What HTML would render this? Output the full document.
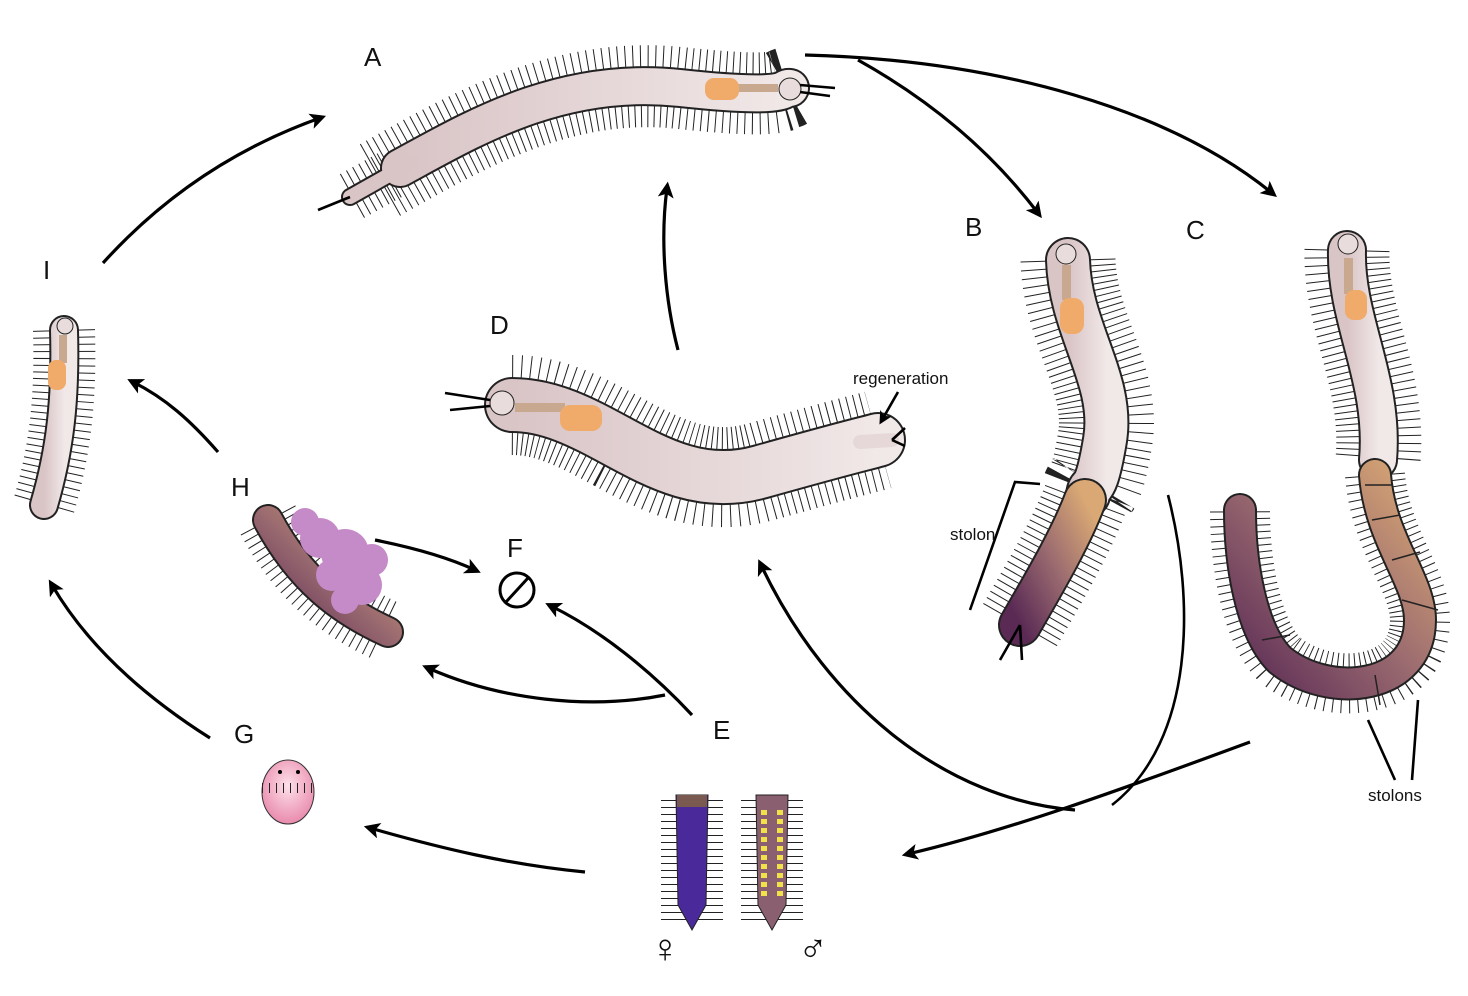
<!DOCTYPE html>
<html><head><meta charset="utf-8">
<style>
html,body{margin:0;padding:0;background:#fff;}
svg{display:block;}
text{font-family:"Liberation Sans",sans-serif;fill:#111;}
.lbl{font-size:26px;}
.small{font-size:17px;}
.arrow{fill:none;stroke:#000;stroke-width:3.2;marker-end:url(#ah);}
.line{fill:none;stroke:#000;stroke-width:2.6;}
.bristle{fill:none;stroke:#222;stroke-dasharray:1 6;}
.body{fill:none;stroke-linecap:round;}
.outline{fill:none;stroke:#222;stroke-linecap:round;}
</style></head>
<body>
<svg width="1468" height="996" viewBox="0 0 1468 996">
<defs>
<marker id="ah" markerWidth="5" markerHeight="5" refX="3" refY="2.5" orient="auto" markerUnits="strokeWidth">
<path d="M0,0 L5,2.5 L0,5 L1.2,2.5 Z" fill="#000"/></marker>
<linearGradient id="pinkbody" x1="0" y1="0" x2="1" y2="0">
<stop offset="0" stop-color="#d9c4c6"/><stop offset="1" stop-color="#f1e8e8"/></linearGradient>
<linearGradient id="stolonG" x1="0" y1="1" x2="1" y2="0">
<stop offset="0" stop-color="#5a2a55"/><stop offset="0.5" stop-color="#9a6a70"/><stop offset="1" stop-color="#d9a874"/></linearGradient>
<radialGradient id="larva" cx="0.5" cy="0.4" r="0.6">
<stop offset="0" stop-color="#fde0ea"/><stop offset="1" stop-color="#e98aac"/></radialGradient>
</defs>

<!-- Worm A -->
<g>
<path class="bristle" stroke-width="82" d="M380,180 C460,135 560,75 680,88 S 780,86 790,88"/>
<path class="bristle" stroke-width="50" d="M352,196 L390,175"/>
<path class="outline" stroke-width="40" d="M400,168 C470,130 560,75 680,88 S 780,86 790,88"/>
<path class="outline" stroke-width="18" d="M350,197 L410,163"/>
<path class="body" stroke="url(#pinkbody)" stroke-width="36" d="M400,168 C470,130 560,75 680,88 S 780,86 790,88"/>
<path class="body" stroke="#d9c4c6" stroke-width="14" d="M350,197 L412,162"/>
<rect x="738" y="84" width="40" height="8" fill="#c9a890"/>
<rect x="705" y="78" width="34" height="22" rx="9" fill="#f0aa6a"/>
<circle cx="790" cy="89" r="11" fill="#e8dcdc" stroke="#222"/>
<path d="M800,85 L835,88 M800,92 L830,96 M350,197 L318,210" class="line" stroke-width="1.2"/>
</g>

<!-- Worm D -->
<g>
<path class="bristle" stroke-width="100" d="M512,405 C600,405 660,500 760,472 S 860,445 878,440"/>
<path class="outline" stroke-width="56" d="M512,405 C600,405 660,500 760,472 S 860,445 878,440"/>
<path class="body" stroke="url(#pinkbody)" stroke-width="52" d="M512,405 C600,405 660,500 760,472 S 860,445 878,440"/>
<path d="M860,442 L892,440" stroke="#e6d8d8" stroke-width="14" stroke-linecap="round"/>
<rect x="515" y="403" width="50" height="9" fill="#c9a890"/>
<rect x="560" y="405" width="42" height="26" rx="10" fill="#f0aa6a"/>
<circle cx="502" cy="403" r="12" fill="#e8dcdc" stroke="#222"/>
<path d="M490,400 L445,393 M490,406 L450,410 M892,440 L905,428 M892,440 L905,446" class="line" stroke-width="1.2"/>
</g>

<!-- Worm B -->
<g>
<path class="bristle" stroke-width="95" d="M1068,260 C1070,330 1115,380 1105,440 S 1090,480 1088,495"/>
<path class="outline" stroke-width="46" d="M1068,260 C1070,330 1115,380 1105,440 S 1090,480 1088,495"/>
<path class="body" stroke="url(#pinkbody)" stroke-width="42" d="M1068,260 C1070,330 1115,380 1105,440 S 1090,480 1088,495"/>
<path class="bristle" stroke-width="85" d="M1085,500 C1070,540 1040,590 1020,625"/>
<path class="outline" stroke-width="44" d="M1085,500 C1070,540 1040,590 1020,625"/>
<path class="body" stroke="url(#stolonG)" stroke-width="40" d="M1085,500 C1070,540 1040,590 1020,625"/>
<rect x="1062" y="265" width="9" height="35" fill="#c9a890"/>
<rect x="1060" y="298" width="24" height="36" rx="10" fill="#f0aa6a"/>
<circle cx="1066" cy="254" r="10" fill="#e8dcdc" stroke="#222"/>
<path d="M1020,625 L1000,660 M1020,625 L1022,660 M1040,484 L1015,482 L970,610" class="line" stroke-width="1.2"/>
</g>

<!-- Worm C -->
<g>
<path class="bristle" stroke-width="85" d="M1347,250 C1345,320 1385,380 1378,460"/>
<path class="outline" stroke-width="40" d="M1347,250 C1345,320 1385,380 1378,460"/>
<path class="body" stroke="url(#pinkbody)" stroke-width="36" d="M1347,250 C1345,320 1385,380 1378,460"/>
<rect x="1344" y="258" width="9" height="36" fill="#c9a890"/>
<rect x="1345" y="290" width="22" height="30" rx="9" fill="#f0aa6a"/>
<circle cx="1348" cy="244" r="10" fill="#e8dcdc" stroke="#222"/>
<path class="bristle" stroke-width="60" d="M1375,475 C1380,540 1420,580 1420,620 C1420,690 1330,700 1280,660 C1250,630 1240,560 1240,510"/>
<path class="outline" stroke-width="34" d="M1375,475 C1380,540 1420,580 1420,620 C1420,690 1330,700 1280,660 C1250,630 1240,560 1240,510"/>
<path class="body" stroke="url(#stolonG)" stroke-width="30" d="M1375,475 C1380,540 1420,580 1420,620 C1420,690 1330,700 1280,660 C1250,630 1240,560 1240,510"/>
<path d="M1365,485 L1392,485 M1372,520 L1400,515 M1392,560 L1420,552 M1402,600 L1438,610 M1375,675 L1380,705 M1262,640 L1290,635" stroke="#222" stroke-width="1.5"/>
<path d="M1368,720 L1395,780 M1418,700 L1412,780" class="line" stroke-width="1.2"/>
</g>

<!-- Worm I -->
<g>
<path class="bristle" stroke-width="62" d="M64,330 C66,400 60,450 44,505"/>
<path class="outline" stroke-width="30" d="M64,330 C66,400 60,450 44,505"/>
<path class="body" stroke="url(#pinkbody)" stroke-width="26" d="M64,330 C66,400 60,450 44,505"/>
<rect x="59" y="335" width="8" height="28" fill="#c9a890"/>
<rect x="48" y="360" width="18" height="30" rx="8" fill="#f0aa6a"/>
<circle cx="65" cy="326" r="8" fill="#e8dcdc" stroke="#222"/>
</g>

<!-- Worm H -->
<g>
<path class="bristle" stroke-width="62" d="M268,520 C300,580 340,610 388,632"/>
<path class="outline" stroke-width="32" d="M268,520 C300,580 340,610 388,632"/>
<path class="body" stroke="url(#stolonG)" stroke-width="28" d="M268,520 C300,580 340,610 388,632"/>
<g fill="#c58ac8">
<circle cx="320" cy="538" r="20"/><circle cx="345" cy="553" r="24"/><circle cx="362" cy="585" r="20"/><circle cx="305" cy="522" r="14"/><circle cx="372" cy="560" r="16"/><circle cx="345" cy="600" r="14"/><circle cx="332" cy="575" r="16"/></g>
</g>

<!-- Larva G -->
<g>
<ellipse cx="288" cy="792" rx="26" ry="32" fill="url(#larva)" stroke="#333" stroke-width="1"/>
<path class="bristle" stroke-width="10" d="M262,788 L314,788"/>
<circle cx="280" cy="772" r="2" fill="#000"/><circle cx="298" cy="772" r="2" fill="#000"/>
</g>

<!-- Worms E -->
<g>
<path class="bristle" stroke-width="62" d="M692,800 L692,925"/>
<path d="M676,795 L708,795 L706,905 L692,930 L678,905 Z" fill="#4a2a9a" stroke="#222"/>
<rect x="677" y="795" width="30" height="12" fill="#7a5a50"/>
<text x="650" y="962" style="font-size:40px">♀</text>
</g>
<g>
<path class="bristle" stroke-width="62" d="M772,800 L772,925"/>
<path d="M756,795 L788,795 L786,905 L772,930 L758,905 Z" fill="#8a6070" stroke="#222"/>
<path d="M764,810 L764,900 M780,810 L780,900" stroke="#f2e24a" stroke-width="6" stroke-dasharray="5 4"/>
<text x="798" y="962" style="font-size:40px">♂</text>
</g>

<!-- F -->
<g>
<circle cx="517" cy="590" r="17" fill="none" stroke="#000" stroke-width="3"/>
<line x1="506" y1="602" x2="528" y2="578" stroke="#000" stroke-width="3"/>
</g>

<!-- Arrows -->
<g>
<path class="arrow" d="M103,263 C160,200 230,150 320,118"/>
<path class="arrow" d="M858,60 C930,100 990,150 1038,213"/>
<path class="arrow" d="M805,55 C1000,60 1170,110 1272,193"/>
<path class="arrow" d="M678,350 C665,300 660,240 667,188"/>
<path class="arrow" d="M218,452 C190,420 165,398 133,382"/>
<path class="arrow" d="M375,540 C410,547 445,556 475,570"/>
<path class="arrow" d="M692,715 C650,670 600,630 551,606"/>
<path class="arrow" d="M665,695 C590,710 500,700 428,668"/>
<path class="arrow" d="M210,738 C150,700 90,650 52,585"/>
<path class="arrow" d="M585,872 C510,865 440,848 370,828"/>
<path class="line" d="M1168,495 C1195,600 1195,740 1112,805"/>
<path class="arrow" d="M1250,742 C1120,790 1010,830 908,854"/>
<path class="arrow" d="M1075,810 C950,800 830,710 761,565"/>
</g>

<!-- Labels -->
<text class="lbl" x="364" y="66">A</text>
<text class="lbl" x="965" y="236">B</text>
<text class="lbl" x="1186" y="239">C</text>
<text class="lbl" x="490" y="334">D</text>
<text class="lbl" x="713" y="739">E</text>
<text class="lbl" x="507" y="557">F</text>
<text class="lbl" x="234" y="743">G</text>
<text class="lbl" x="231" y="496">H</text>
<text class="lbl" x="43" y="279">I</text>
<text class="small" x="853" y="384">regeneration</text>
<path d="M898,392 L882,420" class="line" stroke-width="1.2" marker-end="url(#ah)"/>
<text class="small" x="950" y="540">stolon</text>
<text class="small" x="1368" y="801">stolons</text>
</svg>
</body></html>
